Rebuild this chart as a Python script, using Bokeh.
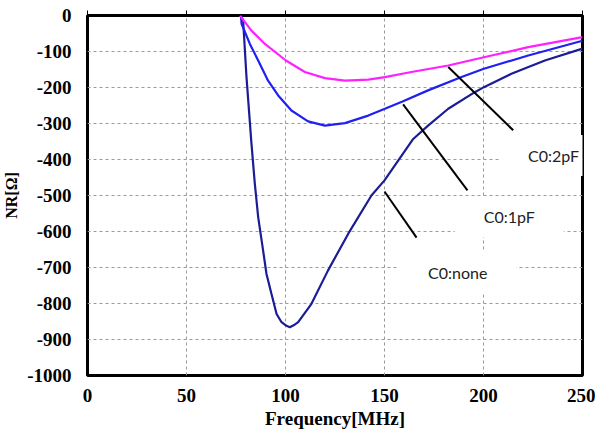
from bokeh.plotting import figure
from bokeh.models import FixedTicker, LinearAxis, Label, Range1d
from bokeh.embed import file_html
from bokeh.resources import INLINE

# ---- data ----
freq_none = [77.5, 78.6, 80.3, 82.8, 84.5, 86.2, 88.7, 90.4, 92.9, 95.5, 98, 100.5, 102.2,
             104.3, 106.4, 113.1, 121.5, 131.7, 143.4, 150, 164.5, 172, 182.2, 195.6,
             200.2, 214.1, 231, 250]
nr_none = [0, -14, -171, -355, -467, -560, -653, -718, -773, -829, -852, -862, -866,
           -860, -852, -801, -708, -606, -500, -458, -343, -306, -259, -213,
           -199, -162, -125, -92]

freq_1pf = [77.5, 77.8, 82, 86.2, 91.2, 96.3, 103, 111.4, 119.9, 130, 141.8, 150.2,
            159.4, 172, 188.9, 200.2, 222.6, 250]
nr_1pf = [0, -23, -79, -125, -181, -222, -264, -294, -306, -299, -278, -259,
          -238, -208, -171, -148, -111, -70]

freq_2pf = [77, 82.8, 89.6, 100.2, 109.8, 119.9, 130, 141.8, 150.2, 163.6, 182.2,
            200.2, 222.6, 250]
nr_2pf = [0, -42, -79, -125, -157, -174, -181, -178, -171, -157, -139,
          -116, -88, -60]

x_ticks = [0, 50, 100, 150, 200, 250]
y_ticks = [0, -100, -200, -300, -400, -500, -600, -700, -800, -900, -1000]
x_tick_labels = {t: str(t) for t in x_ticks}
y_tick_labels = {t: str(t) for t in y_ticks}

label_text = ["C0:2pF", "C0:1pF", "C0:none"]
label_x = [235.4, 213.0, 187.0]
label_y = [-389, -558, -714]
leader_x0 = [182.2, 159.4, 150.0]
leader_y0 = [-143, -247, -489]
leader_x1 = [215.0, 191.9, 166.2]
leader_y1 = [-319, -486, -617]

SERIF = "Liberation Serif"

# ---- figure ----
p = figure(width=595, height=436, output_backend="svg", toolbar_location=None,
           x_range=Range1d(0, 250), y_range=Range1d(-1000, 0),
           min_border_left=86, min_border_right=13, min_border_top=15,
           min_border_bottom=61)
p.background_fill_color = "white"
p.border_fill_color = "white"
p.outline_line_color = "black"
p.outline_line_width = 3

xax = p.xaxis[0]
yax = p.yaxis[0]
xax.ticker = FixedTicker(ticks=x_ticks)
yax.ticker = FixedTicker(ticks=y_ticks)
xax.major_label_overrides = x_tick_labels
yax.major_label_overrides = y_tick_labels
for ax in (xax, yax):
    ax.axis_line_color = None
    ax.major_tick_line_color = None
    ax.minor_tick_line_color = None
    ax.major_tick_out = 0
    ax.major_tick_in = 0
    ax.minor_tick_out = 0
    ax.minor_tick_in = 0
    ax.major_label_text_font = SERIF
    ax.major_label_text_font_style = "bold"
    ax.major_label_text_font_size = "19px"
    ax.major_label_text_color = "black"
    ax.axis_label_text_font = SERIF
    ax.axis_label_text_font_style = "bold"
    ax.axis_label_text_color = "black"

xax.axis_label = "Frequency[MHz]"
xax.axis_label_text_font_size = "19px"
xax.major_label_standoff = 13
xax.axis_label_standoff = 3
yax.axis_label = "NR[Ω]"
yax.axis_label_text_font_size = "16px"
yax.major_label_standoff = 16
yax.axis_label_standoff = 4

top = LinearAxis(ticker=FixedTicker(ticks=x_ticks), axis_line_color=None,
                 major_tick_out=5, major_tick_in=0, major_tick_line_color="black",
                 major_tick_line_width=1, minor_tick_line_color=None,
                 major_label_overrides={t: "" for t in x_ticks},
                 major_label_standoff=0)
p.add_layout(top, "above")

p.xgrid.grid_line_color = "#9a9a9a"
p.ygrid.grid_line_color = "#9a9a9a"
p.xgrid.grid_line_dash = "3 3"
p.ygrid.grid_line_dash = "3 3"
p.xgrid.grid_line_width = 1
p.ygrid.grid_line_width = 1

# ---- curves ----
p.line(freq_none, nr_none, line_color="#1c1c96", line_width=2.2)
p.line(freq_1pf, nr_1pf, line_color="#2020f0", line_width=2.2)
p.line(freq_2pf, nr_2pf, line_color="#ff20ff", line_width=2.2)

# ---- leader lines ----
p.segment(x0=leader_x0, y0=leader_y0, x1=leader_x1, y1=leader_y1,
          line_color="black", line_width=2)

# ---- labels ----
for t, lx, ly in zip(label_text, label_x, label_y):
    p.add_layout(Label(x=lx, y=ly, text=t, text_font="Lato", text_font_size="16px",
                       text_color="#222222", text_align="center",
                       text_baseline="middle", background_fill_color="white",
                       padding=dict(left=29, right=29, top=11, bottom=11)))

open("out.html", "w").write(file_html(p, INLINE))
